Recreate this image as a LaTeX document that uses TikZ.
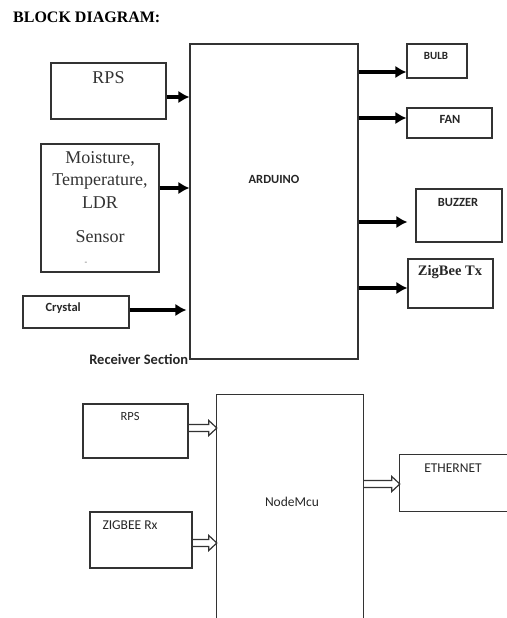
\documentclass[tikz,border=0pt]{standalone}
\usepackage{fontspec}
\setmainfont{Liberation Serif}
\newfontfamily\calib{Carlito}
\usetikzlibrary{positioning,arrows.meta}

\tikzset{
  blk/.style={draw=black!80, line width=1.2pt, inner sep=0pt},
  sertxt/.style={font=\fontsize{18}{22.5}\selectfont, text=black!80},
  boldtxt/.style={font=\calib\bfseries\fontsize{12.5}{14}\selectfont, text=black!85},
  thintxt/.style={font=\calib\fontsize{13.5}{15}\selectfont, text=black!85},
  thickarr/.style={line width=3.2pt, -{Latex[length=11pt,width=12.5pt]}},
  % open block arrow, drawn as an outline
  hollowarr/.style={draw=black!80, line width=1.2pt, line join=miter,
    to path={([yshift=3.5pt]\tikztostart) -- ([xshift=-8pt,yshift=3.5pt]\tikztotarget)
      -- ([xshift=-8pt,yshift=7.5pt]\tikztotarget) -- (\tikztotarget)
      -- ([xshift=-8pt,yshift=-7.5pt]\tikztotarget) -- ([xshift=-8pt,yshift=-3.5pt]\tikztotarget)
      -- ([yshift=-3.5pt]\tikztostart)}},
}

\begin{document}
\begin{tikzpicture}[x=1pt,y=-1pt]

  \useasboundingbox (0,0) rectangle (506,618);

  % heading
  \node[anchor=west, inner sep=0pt, font=\bfseries\fontsize{16}{18}\selectfont] (title) at (13,17) {BLOCK DIAGRAM:};

  % receiver section: boxes
  \node[blk, minimum width=115, minimum height=56] (rps) at (108.5,91) {};
  \node[blk, minimum width=118, minimum height=128] (sensor) at (100,208) {};
  \node[blk, minimum width=106, minimum height=32] (crystal) at (76,312) {};
  \node[blk, minimum width=168, minimum height=315] (arduino) at (274,201.5) {};
  \node[blk, minimum width=60, minimum height=34] (bulb) at (437,61) {};
  \node[blk, minimum width=85, minimum height=30] (fan) at (449.5,123) {};
  \node[blk, minimum width=86, minimum height=53] (buzzer) at (459,215.5) {};
  \node[blk, minimum width=85, minimum height=49] (zigtx) at (450.5,283.5) {};

  % receiver section: texts
  \node[sertxt] (rpstext) at (108.5,78) {RPS};
  \node[sertxt, align=center, anchor=north] (sensortext) at (100,148)
    {Moisture,\\Temperature,\\LDR\\[12pt]Sensor};
  \node[font=\fontsize{8}{9}\selectfont, text=black!60] (dash) at (86,263) {-};
  \node[boldtxt, anchor=west] (crystaltext) at (42,308) {Crystal};
  \node[boldtxt, font=\calib\bfseries\fontsize{14.5}{16}\selectfont, anchor=east, inner sep=1pt] (rectext) at (arduino.south west) {Receiver Section};
  \node[boldtxt] (arduinotext) at (274,179) {ARDUINO};
  \node[boldtxt, font=\calib\bfseries\fontsize{11}{13}\selectfont] (bulbtext) at (436,56) {BULB};
  \node[boldtxt] (fantext) at (450,119) {FAN};
  \node[boldtxt] (buzzertext) at (458,202) {BUZZER};
  \node[font=\bfseries\fontsize{14.5}{17}\selectfont, text=black!85] (zigtxtext) at (450,272) {ZigBee Tx};

  % receiver section: arrows
  \draw[thickarr] (rps.east |- 0,97) -- (arduino.west |- 0,97);
  \draw[thickarr] (sensor.east |- 0,188) -- (arduino.west |- 0,188);
  \draw[thickarr] (crystal.east |- 0,310) -- ([xshift=-3pt]arduino.west |- 0,310);
  \draw[thickarr] (arduino.east |- 0,72) -- (bulb.west |- 0,72);
  \draw[thickarr] (arduino.east |- 0,118) -- (fan.west |- 0,118);
  \draw[thickarr] (arduino.east |- 0,222) -- ([xshift=-8pt]buzzer.west |- 0,222);
  \draw[thickarr] (arduino.east |- 0,288) -- (zigtx.west |- 0,288);

  % transmitter part: boxes
  \node[blk, minimum width=105, minimum height=54] (rpsb) at (135.5,431) {};
  \node[blk, minimum width=102, minimum height=56] (zigrx) at (141,540) {};
  \node[minimum width=146, minimum height=225, inner sep=0pt] (nodemcu) at (290,507.5) {};
  \node[minimum width=110, minimum height=56, inner sep=0pt] (eth) at (455,483) {};
  % open sides (cut by the page)
  \draw[draw=black!80, line width=1.2pt] (nodemcu.south west) |- (nodemcu.north east) -- (nodemcu.south east);
  \draw[draw=black!80, line width=1.2pt] (eth.north east) -- (eth.north west) -- (eth.south west) -- (eth.south east);

  % transmitter part: texts
  \node[thintxt, font=\calib\fontsize{12.5}{14}\selectfont] (rpsbtext) at (130,416) {RPS};
  \node[thintxt] (zigrxtext) at (130,525) {ZIGBEE Rx};
  \node[thintxt] (nodemcutext) at (292,502) {NodeMcu};
  \node[thintxt] (ethtext) at (453,468) {ETHERNET};

  % transmitter part: arrows
  \draw[hollowarr] (rpsb.east |- 0,428) to (nodemcu.west |- 0,428);
  \draw[hollowarr] (zigrx.east |- 0,543) to (nodemcu.west |- 0,543);
  \draw[hollowarr] (nodemcu.east |- 0,484) to (eth.west |- 0,484);

\end{tikzpicture}
\end{document}
